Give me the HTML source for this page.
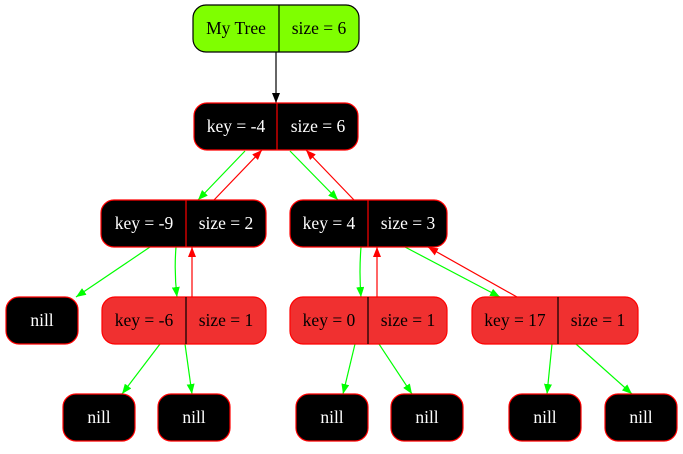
<!DOCTYPE html>
<html><head><style>body{margin:0;background:#fff}</style></head><body>
<svg width="683" height="449" xmlns="http://www.w3.org/2000/svg" font-family="Liberation Serif, serif" font-size="17.5">
<defs>
<marker id="k" markerWidth="10" markerHeight="8" refX="10" refY="4" orient="auto" markerUnits="userSpaceOnUse"><path d="M0,0L10,4L0,8z" fill="#000"/></marker>
<marker id="g" markerWidth="10" markerHeight="8" refX="10" refY="4" orient="auto" markerUnits="userSpaceOnUse"><path d="M0,0L10,4L0,8z" fill="#0f0"/></marker>
<marker id="r" markerWidth="10" markerHeight="8" refX="10" refY="4" orient="auto" markerUnits="userSpaceOnUse"><path d="M0,0L10,4L0,8z" fill="#f00"/></marker>
</defs>
<g stroke-width="1.2">
<line x1="276" y1="52" x2="276" y2="103" stroke="#000" marker-end="url(#k)"/>
<line x1="245" y1="151" x2="198" y2="200" stroke="#0f0" marker-end="url(#g)"/>
<line x1="214" y1="200" x2="262" y2="150" stroke="#f00" marker-end="url(#r)"/>
<line x1="290" y1="151" x2="338" y2="200" stroke="#0f0" marker-end="url(#g)"/>
<line x1="354" y1="200" x2="306" y2="150" stroke="#f00" marker-end="url(#r)"/>
<line x1="150" y1="247" x2="76" y2="297" stroke="#0f0" marker-end="url(#g)"/>
<path d="M176,247 Q174,272 177,297" fill="none" stroke="#0f0" marker-end="url(#g)"/>
<line x1="192" y1="297" x2="192" y2="247" stroke="#f00" marker-end="url(#r)"/>
<path d="M361,247 Q359,272 361,297" fill="none" stroke="#0f0" marker-end="url(#g)"/>
<line x1="377" y1="297" x2="377" y2="247" stroke="#f00" marker-end="url(#r)"/>
<line x1="405" y1="247" x2="500" y2="297" stroke="#0f0" marker-end="url(#g)"/>
<line x1="517" y1="297" x2="428" y2="247" stroke="#f00" marker-end="url(#r)"/>
<line x1="160" y1="344" x2="122" y2="394" stroke="#0f0" marker-end="url(#g)"/>
<line x1="185" y1="344" x2="192" y2="394" stroke="#0f0" marker-end="url(#g)"/>
<line x1="355" y1="344" x2="343" y2="394" stroke="#0f0" marker-end="url(#g)"/>
<line x1="379" y1="344" x2="412" y2="394" stroke="#0f0" marker-end="url(#g)"/>
<line x1="552" y1="344" x2="547" y2="394" stroke="#0f0" marker-end="url(#g)"/>
<line x1="576" y1="344" x2="632" y2="394" stroke="#0f0" marker-end="url(#g)"/>
</g>
<g stroke-width="1.2" text-anchor="middle">
<rect x="193" y="5" width="166" height="47" rx="13" fill="#7fff00" stroke="#000"/>
<line x1="279" y1="5" x2="279" y2="52" stroke="#000"/>
<text x="236" y="34">My Tree</text><text x="319" y="34">size = 6</text>

<rect x="194" y="103" width="164" height="47" rx="13" fill="#000" stroke="#f00"/>
<line x1="277" y1="103" x2="277" y2="150" stroke="#f00"/>
<text x="236" y="132" fill="#fff">key = -4</text><text x="318" y="132" fill="#fff">size = 6</text>

<rect x="101" y="200" width="165" height="47" rx="13" fill="#000" stroke="#f00"/>
<line x1="186" y1="200" x2="186" y2="247" stroke="#f00"/>
<text x="144" y="229" fill="#fff">key = -9</text><text x="226" y="229" fill="#fff">size = 2</text>

<rect x="290" y="200" width="157" height="47" rx="13" fill="#000" stroke="#f00"/>
<line x1="368" y1="200" x2="368" y2="247" stroke="#f00"/>
<text x="329" y="229" fill="#fff">key = 4</text><text x="408" y="229" fill="#fff">size = 3</text>

<rect x="6" y="297" width="72" height="47" rx="13" fill="#000" stroke="#f00"/>
<text x="42" y="326" fill="#fff">nill</text>

<rect x="102" y="297" width="164" height="47" rx="13" fill="#f03030" stroke="#f00"/>
<line x1="186" y1="297" x2="186" y2="344" stroke="#000"/>
<text x="144" y="326">key = -6</text><text x="226" y="326">size = 1</text>

<rect x="290" y="297" width="157" height="47" rx="13" fill="#f03030" stroke="#f00"/>
<line x1="368" y1="297" x2="368" y2="344" stroke="#000"/>
<text x="329" y="326">key = 0</text><text x="408" y="326">size = 1</text>

<rect x="472" y="297" width="166" height="47" rx="13" fill="#f03030" stroke="#f00"/>
<line x1="558" y1="297" x2="558" y2="344" stroke="#000"/>
<text x="515" y="326">key = 17</text><text x="598" y="326">size = 1</text>

<g fill="#000" stroke="#f00">
<rect x="63" y="394" width="72" height="47" rx="13"/>
<rect x="158" y="394" width="72" height="47" rx="13"/>
<rect x="296" y="394" width="72" height="47" rx="13"/>
<rect x="391" y="394" width="72" height="47" rx="13"/>
<rect x="509" y="394" width="72" height="47" rx="13"/>
<rect x="605" y="394" width="72" height="47" rx="13"/>
</g>
<g fill="#fff">
<text x="99" y="423">nill</text><text x="194" y="423">nill</text><text x="332" y="423">nill</text>
<text x="427" y="423">nill</text><text x="545" y="423">nill</text><text x="641" y="423">nill</text>
</g>
</g>
</svg>
</body></html>
